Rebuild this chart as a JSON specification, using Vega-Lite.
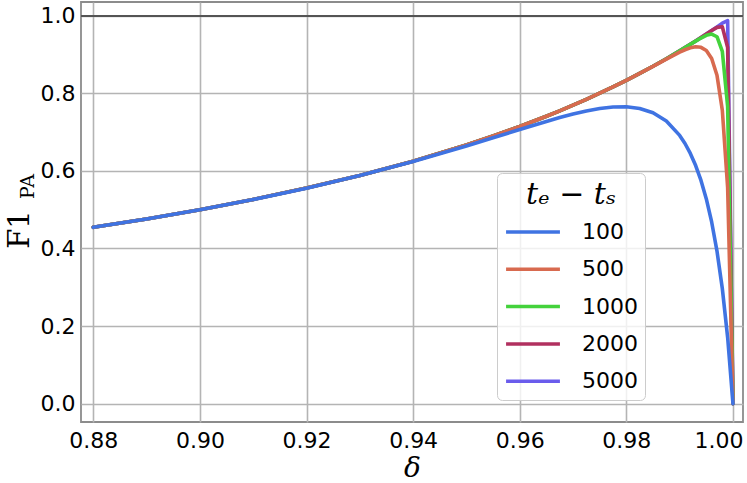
{
  "$schema": "https://vega.github.io/schema/vega-lite/v6.json",
  "autosize": {"type": "none"},
  "width": 662,
  "height": 420,
  "padding": {"left": 81, "top": 2, "right": 4, "bottom": 61},
  "background": "white",
  "config": {
    "view": {"stroke": "#8c8c8c", "strokeWidth": 1.8},
    "axis": {"labelFont": "DejaVu Sans", "labelColor": "black", "labelFontSize": 22}
  },
  "data": {"values": [
    {"d": 0.88, "100": 0.45455, "500": 0.45455, "1000": 0.45455, "2000": 0.45455, "5000": 0.45455},
    {"d": 0.89, "100": 0.47619, "500": 0.47619, "1000": 0.47619, "2000": 0.47619, "5000": 0.47619},
    {"d": 0.90, "100": 0.5, "500": 0.5, "1000": 0.5, "2000": 0.5, "5000": 0.5},
    {"d": 0.91, "100": 0.52629, "500": 0.52632, "1000": 0.52632, "2000": 0.52632, "5000": 0.52632},
    {"d": 0.92, "100": 0.55546, "500": 0.55556, "1000": 0.55556, "2000": 0.55556, "5000": 0.55556},
    {"d": 0.93, "100": 0.58794, "500": 0.58824, "1000": 0.58824, "2000": 0.58824, "5000": 0.58824},
    {"d": 0.94, "100": 0.62412, "500": 0.625, "1000": 0.625, "2000": 0.625, "5000": 0.625},
    {"d": 0.95, "100": 0.66403, "500": 0.66667, "1000": 0.66667, "2000": 0.66667, "5000": 0.66667},
    {"d": 0.955, "100": 0.68512, "500": 0.68966, "1000": 0.68966, "2000": 0.68966, "5000": 0.68966},
    {"d": 0.96, "100": 0.70649, "500": 0.71429, "1000": 0.71429, "2000": 0.71429, "5000": 0.71429},
    {"d": 0.965, "100": 0.72737, "500": 0.74074, "1000": 0.74074, "2000": 0.74074, "5000": 0.74074},
    {"d": 0.9675, "100": 0.73721, "500": 0.75472, "1000": 0.75472, "2000": 0.75472, "5000": 0.75472},
    {"d": 0.97, "100": 0.7463, "500": 0.76923, "1000": 0.76923, "2000": 0.76923, "5000": 0.76923},
    {"d": 0.9725, "100": 0.75426, "500": 0.78431, "1000": 0.78431, "2000": 0.78431, "5000": 0.78431},
    {"d": 0.975, "100": 0.76058, "500": 0.8, "1000": 0.8, "2000": 0.8, "5000": 0.8},
    {"d": 0.9775, "100": 0.76452, "500": 0.81633, "1000": 0.81633, "2000": 0.81633, "5000": 0.81633},
    {"d": 0.98, "100": 0.7651, "500": 0.83331, "1000": 0.83333, "2000": 0.83333, "5000": 0.83333},
    {"d": 0.9825, "100": 0.76084, "500": 0.85099, "1000": 0.85106, "2000": 0.85106, "5000": 0.85106},
    {"d": 0.985, "100": 0.74963, "500": 0.86931, "1000": 0.86957, "2000": 0.86957, "5000": 0.86957},
    {"d": 0.9875, "100": 0.72822, "500": 0.88797, "1000": 0.88889, "2000": 0.88889, "5000": 0.88889},
    {"d": 0.99, "100": 0.69136, "500": 0.90582, "1000": 0.90907, "2000": 0.90909, "5000": 0.90909},
    {"d": 0.991, "100": 0.67049, "500": 0.912, "1000": 0.91737, "2000": 0.91743, "5000": 0.91743},
    {"d": 0.992, "100": 0.64495, "500": 0.91689, "1000": 0.92576, "2000": 0.92593, "5000": 0.92593},
    {"d": 0.993, "100": 0.61367, "500": 0.91952, "1000": 0.93414, "2000": 0.93458, "5000": 0.93458},
    {"d": 0.994, "100": 0.57523, "500": 0.91822, "1000": 0.94218, "2000": 0.9434, "5000": 0.9434},
    {"d": 0.995, "100": 0.52767, "500": 0.91004, "1000": 0.94905, "2000": 0.95236, "5000": 0.95238},
    {"d": 0.996, "100": 0.46832, "500": 0.88958, "1000": 0.95239, "2000": 0.96137, "5000": 0.96154},
    {"d": 0.997, "100": 0.39335, "500": 0.84618, "1000": 0.9455, "2000": 0.96965, "5000": 0.97087},
    {"d": 0.998, "100": 0.29708, "500": 0.75635, "1000": 0.9081, "2000": 0.97119, "5000": 0.98037},
    {"d": 0.999, "100": 0.17075, "500": 0.5569, "1000": 0.76536, "2000": 0.91766, "5000": 0.98673},
    {"d": 1.0, "100": 0, "500": 0, "1000": 0, "2000": 0, "5000": 0}
  ]},
  "resolve": {"axis": {"y": "independent"}},
  "layer": [
    {
      "transform": [{"fold": ["5000", "2000", "1000", "500", "100"], "as": ["t", "f1"]}],
      "mark": {"type": "line", "strokeWidth": 3.6, "strokeJoin": "round", "strokeCap": "round"},
      "encoding": {
        "x": {
          "field": "d", "type": "quantitative",
          "scale": {"domain": [0.8777, 1.00188], "nice": false, "zero": false},
          "axis": {
            "values": [0.88, 0.9, 0.92, 0.94, 0.96, 0.98, 1.0], "format": ".2f",
            "ticks": false, "domain": false, "labelPadding": 8,
            "labelFlush": 11, "labelFlushOffset": 10,
            "grid": true, "gridColor": "#b4b4b4", "gridWidth": 1.6,
            "title": "δ", "titleFont": "DejaVu Serif", "titleFontStyle": "italic",
            "titleFontWeight": "normal", "titleFontSize": 28, "titleColor": "black",
            "titleY": 54, "titleBaseline": "alphabetic"
          }
        },
        "y": {
          "field": "f1", "type": "quantitative",
          "scale": {"domain": [-0.047, 1.035], "nice": false, "zero": false},
          "axis": {
            "orient": "left",
            "values": [0, 0.2, 0.4, 0.6, 0.8, 1.0], "format": ".1f",
            "ticks": false, "domain": false, "labelPadding": 6,
            "grid": true, "gridColor": "#b4b4b4", "gridWidth": 1.6,
            "title": "F1", "titleFont": "DejaVu Serif", "titleFontWeight": "normal",
            "titleFontSize": 29, "titleColor": "black", "titleAngle": 270,
            "titleX": -53, "titleY": 227, "titleBaseline": "alphabetic", "titleAlign": "center"
          }
        },
        "color": {
          "field": "t", "type": "nominal",
          "scale": {"domain": ["100", "500", "1000", "2000", "5000"],
                    "range": ["#3f73e2", "#d86a4f", "#44d23c", "#b1305f", "#6a5cec"]},
          "legend": {
            "orient": "none", "legendX": 416, "legendY": 171,
            "title": "tₑ − tₛ", "titleFont": "DejaVu Serif", "titleFontStyle": "italic",
            "titleFontWeight": "normal", "titleFontSize": 30, "titleColor": "black",
            "titleAnchor": "middle", "titlePadding": 11,
            "labelFont": "DejaVu Sans", "labelFontSize": 22, "labelColor": "black",
            "labelOffset": 20, "labelExpr": "datum.label + '\u00a0'",
            "symbolType": "stroke", "symbolSize": 2900, "symbolStrokeWidth": 3.5,
            "clipHeight": 22, "rowPadding": 15.3, "padding": 7,
            "strokeColor": "#cccccc", "fillColor": "rgba(255,255,255,0.8)", "cornerRadius": 5
          }
        }
      }
    },
    {
      "mark": {"type": "rule", "color": "#555555", "strokeWidth": 1.3},
      "encoding": {
        "y": {
          "datum": 1, "type": "quantitative",
          "scale": {"domain": [-0.047, 1.035], "nice": false, "zero": false},
          "axis": {
            "orient": "right", "labels": false, "ticks": false, "domain": false, "grid": false,
            "title": "PA", "titleFont": "DejaVu Serif", "titleFontWeight": "normal",
            "titleFontSize": 19, "titleColor": "black", "titleAngle": 270,
            "titleX": -710, "titleY": 184, "titleBaseline": "alphabetic", "titleAlign": "center"
          }
        }
      }
    }
  ]
}
